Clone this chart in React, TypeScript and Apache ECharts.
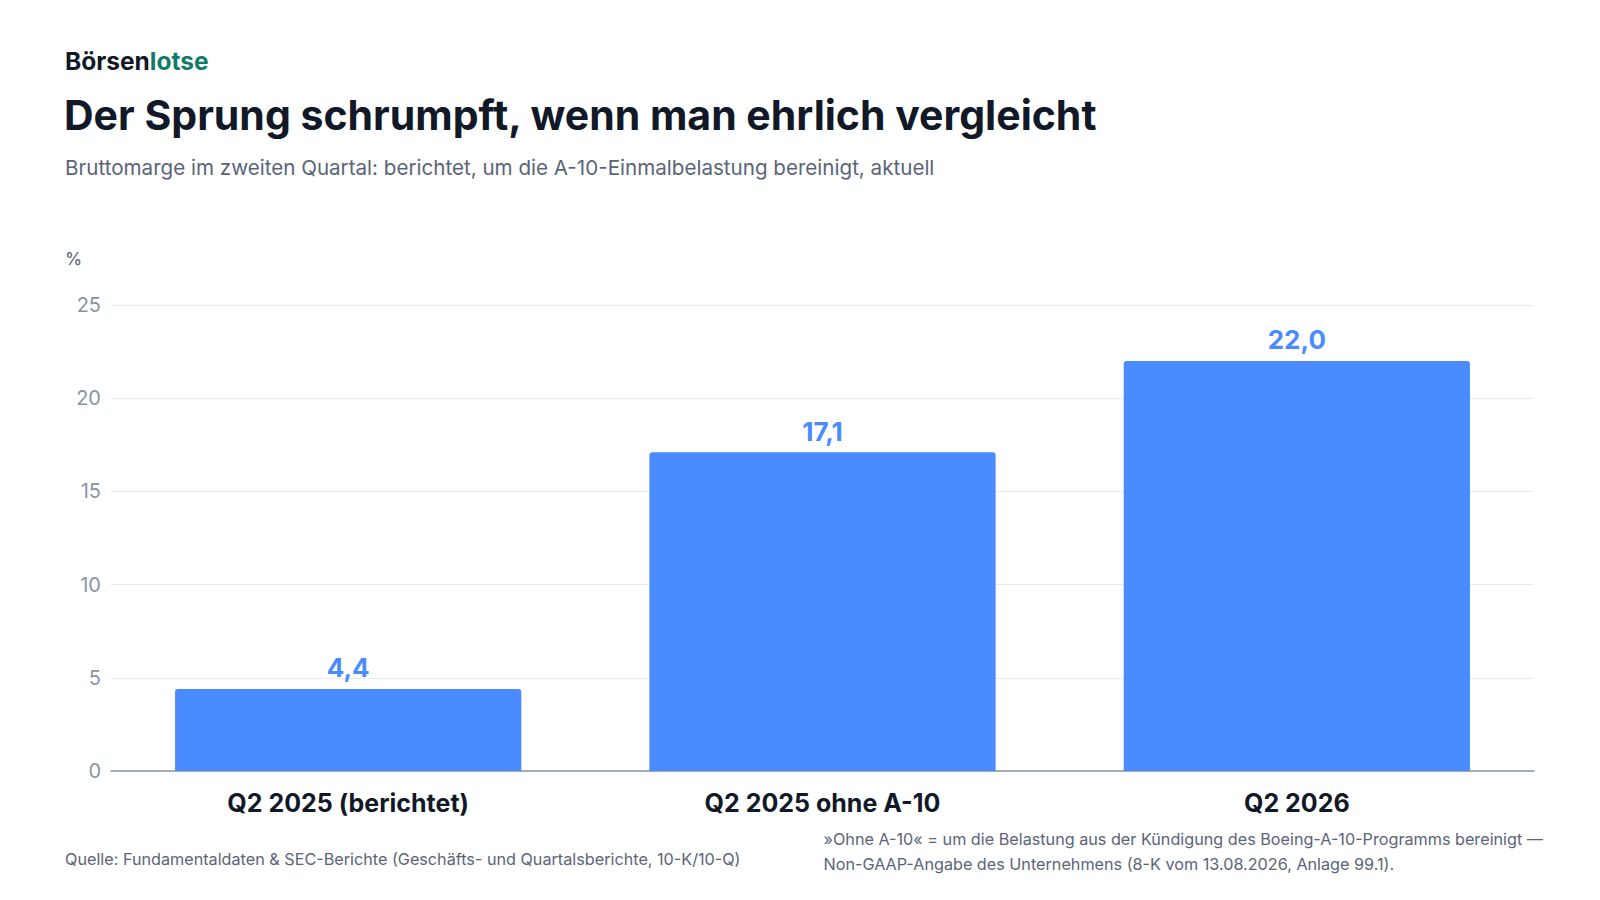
import { useEffect, useRef } from 'react'
import * as echarts from 'echarts'

const categories = ['Q2 2025 (berichtet)', 'Q2 2025 ohne A-10', 'Q2 2026']
const margins = [4.4, 17.1, 22.0]
const yTicks = [0, 5, 10, 15, 20, 25]

const FONT = 'Inter, "Noto Sans", sans-serif'

export default function App() {
  const chartRef = useRef<HTMLDivElement>(null)

  useEffect(() => {
    if (!chartRef.current) return
    const chart = echarts.init(chartRef.current, undefined, { renderer: 'svg' })

    chart.setOption({
      animation: false,
      backgroundColor: '#ffffff',
      textStyle: { fontFamily: FONT },
      grid: { left: 111, right: 66, top: 305, bottom: 129 },
      graphic: [
        {
          type: 'text', left: 65, top: 48,
          style: {
            text: '{a|Börsen}{b|lotse}',
            rich: {
              a: { fontSize: 24.5, fontWeight: 700, fill: '#111827', fontFamily: FONT },
              b: { fontSize: 24.5, fontWeight: 700, fill: '#0f7a68', fontFamily: FONT },
            },
          },
        },
        {
          type: 'text', left: 64, top: 94,
          style: { text: 'Der Sprung schrumpft, wenn man ehrlich vergleicht', fontSize: 41, fontWeight: 700, fill: '#111827', fontFamily: FONT, letterSpacing: -0.8 },
        },
        {
          type: 'text', left: 65, top: 157,
          style: { text: 'Bruttomarge im zweiten Quartal: berichtet, um die A-10-Einmalbelastung bereinigt, aktuell', fontSize: 20.6, fill: '#5b6478', fontFamily: FONT },
        },
        {
          type: 'text', left: 65, top: 249,
          style: { text: '%', fontSize: 17.5, fill: '#5b6478', fontFamily: FONT },
        },
        {
          type: 'text', left: 65, top: 851,
          style: { text: 'Quelle: Fundamentaldaten & SEC-Berichte (Geschäfts- und Quartalsberichte, 10-K/10-Q)', fontSize: 16.2, fill: '#5b6478', fontFamily: FONT },
        },
        {
          type: 'text', right: 57, top: 827,
          style: {
            text: '»Ohne A-10« = um die Belastung aus der Kündigung des Boeing-A-10-Programms bereinigt —\nNon-GAAP-Angabe des Unternehmens (8-K vom 13.08.2026, Anlage 99.1).',
            fontSize: 16.2, lineHeight: 24.6, fill: '#5b6478', align: 'right', fontFamily: FONT,
          },
        },
      ],
      xAxis: {
        type: 'category',
        data: categories,
        axisLine: { lineStyle: { color: '#8a93a6', width: 1.5 } },
        axisTick: { show: false },
        axisLabel: { color: '#111827', fontSize: 25, fontWeight: 700, margin: 19, fontFamily: FONT },
      },
      yAxis: {
        type: 'value',
        min: 0,
        max: 25,
        interval: 5,
        axisLabel: {
          color: '#8a93a6', fontSize: 20, margin: 10, fontFamily: FONT,
          formatter: (v: number) => (yTicks.includes(v) ? String(v) : ''),
        },
        splitLine: { lineStyle: { color: '#e8eaee' } },
        axisLine: { show: false },
        axisTick: { show: false },
      },
      series: [
        {
          type: 'bar',
          data: margins,
          barWidth: '73%',
          itemStyle: { color: '#4a8cff', borderRadius: [3, 3, 0, 0] },
          label: {
            show: true,
            position: 'top',
            distance: 8,
            color: '#4a8cff',
            fontSize: 26,
            fontWeight: 700,
            fontFamily: FONT,
            formatter: (p: any) => p.value.toFixed(1).replace('.', ','),
          },
        },
      ],
    })

    return () => chart.dispose()
  }, [])

  return <div ref={chartRef} style={{ position: 'fixed', left: 0, top: 0, width: 1600, height: 900 }} />
}
